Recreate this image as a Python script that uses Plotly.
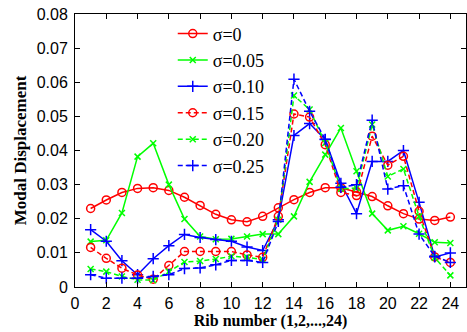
import plotly.graph_objects as go

ribs = list(range(1, 25))

s000 = [0.0230, 0.0255, 0.0277, 0.0289, 0.0291, 0.0283, 0.0263, 0.0239, 0.0213, 0.0197,
        0.0191, 0.0207, 0.0232, 0.0256, 0.0277, 0.0291, 0.0291, 0.0279, 0.0265, 0.0238,
        0.0215, 0.0199, 0.0195, 0.0205]
s005 = [0.0133, 0.0137, 0.0217, 0.0382, 0.0421, 0.0300, 0.0199, 0.0148, 0.0140, 0.0141,
        0.0148, 0.0155, 0.0155, 0.0207, 0.0308, 0.0388, 0.0466, 0.0339, 0.0215, 0.0166,
        0.0178, 0.0156, 0.0131, 0.0129]
s010 = [0.0168, 0.0134, 0.0077, 0.0036, 0.0083, 0.0121, 0.0154, 0.0145, 0.0139, 0.0134,
        0.0117, 0.0107, 0.0197, 0.0444, 0.0479, 0.0432, 0.0304, 0.0215, 0.0368, 0.0368,
        0.0400, 0.0248, 0.0088, 0.0100]
s015 = [0.0116, 0.0084, 0.0055, 0.0035, 0.0023, 0.0063, 0.0104, 0.0104, 0.0104, 0.0104,
        0.0094, 0.0087, 0.0207, 0.0507, 0.0498, 0.0417, 0.0277, 0.0268, 0.0442, 0.0357,
        0.0383, 0.0222, 0.0088, 0.0072]
s020 = [0.0053, 0.0045, 0.0031, 0.0021, 0.0020, 0.0045, 0.0073, 0.0076, 0.0082, 0.0090,
        0.0087, 0.0080, 0.0197, 0.0561, 0.0520, 0.0422, 0.0288, 0.0290, 0.0476, 0.0324,
        0.0346, 0.0207, 0.0086, 0.0034]
s025 = [0.0036, 0.0026, 0.0026, 0.0026, 0.0031, 0.0036, 0.0054, 0.0056, 0.0065, 0.0078,
        0.0078, 0.0072, 0.0192, 0.0609, 0.0515, 0.0433, 0.0292, 0.0300, 0.0489, 0.0287,
        0.0297, 0.0155, 0.0090, 0.0072]

names = ["σ=0", "σ=0.05", "σ=0.10", "σ=0.15", "σ=0.20", "σ=0.25"]
series = [s000, s005, s010, s015, s020, s025]
colors = ["#ff0000", "#00ff00", "#0000ff", "#ff0000", "#00ff00", "#0000ff"]
dashes = ["solid", "solid", "solid", "5px,3px", "5px,3px", "5px,3px"]
symbols = ["circle-open", "x-thin-open", "cross-thin-open",
           "circle-open", "x-thin-open", "cross-thin-open"]
msizes = [8, 6, 8, 8, 6, 8]

xticks = list(range(0, 25, 2))
yticks = [0, 0.01, 0.02, 0.03, 0.04, 0.05, 0.06, 0.07, 0.08]
ytext = ["0", "0.01", "0.02", "0.03", "0.04", "0.05", "0.06", "0.07", "0.08"]

serif = "Liberation Serif, Times New Roman, serif"
sans = "Liberation Sans, Arial, sans-serif"

fig = go.Figure()
for n, s, c, d, sym, ms in zip(names, series, colors, dashes, symbols, msizes):
    fig.add_trace(go.Scatter(
        x=ribs, y=s, name=n, mode="lines+markers",
        line=dict(color=c, width=1.5, dash=d),
        marker=dict(symbol=sym, size=ms, color=c, line=dict(color=c, width=1.5)),
    ))

axis_common = dict(
    showgrid=False, zeroline=False, showline=True, linecolor="black", linewidth=1,
    mirror="ticks", ticks="inside", ticklen=5, tickcolor="black", tickwidth=1,
    tickfont=dict(family=sans, size=16, color="black"),
)

fig.update_layout(
    width=467, height=332,
    margin=dict(l=75, r=1, t=14, b=45),
    paper_bgcolor="white", plot_bgcolor="white",
    xaxis=dict(range=[0, 25], tickvals=xticks, ticklabelstandoff=2,
               title=dict(text="<b>Rib number (1,2,...,24)</b>", standoff=3,
                          font=dict(family=serif, size=16, color="black")),
               **axis_common),
    yaxis=dict(range=[0, 0.08], tickvals=yticks, ticktext=ytext, ticklabelstandoff=3,
               title=dict(text="<b>Modal Displacement</b>", standoff=5,
                          font=dict(family=serif, size=17, color="black")),
               **axis_common),
    legend=dict(x=0.25, y=0.995, xanchor="left", yanchor="top",
                bgcolor="rgba(0,0,0,0)", borderwidth=0,
                font=dict(family=serif, size=18, color="black"),
                tracegroupgap=0),
    showlegend=True,
)

fig.write_html("out.html")
